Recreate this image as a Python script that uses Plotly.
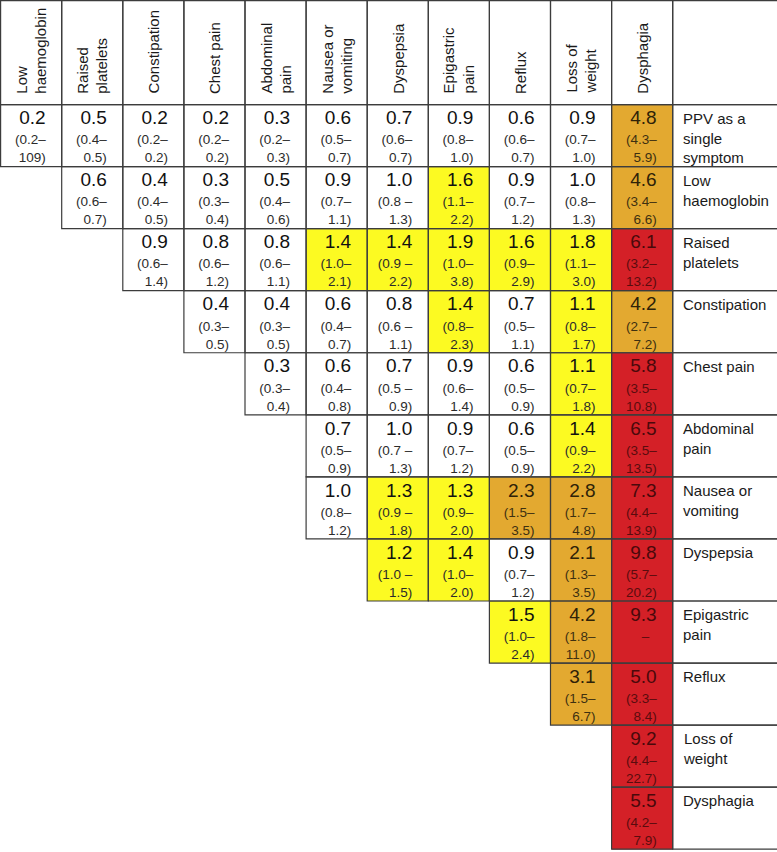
import plotly.graph_objects as go

# column headers (symptom combined with the row symptom)
col_labels = ["Low<br>haemoglobin", "Raised<br>platelets", "Constipation", "Chest pain",
              "Abdominal<br>pain", "Nausea or<br>vomiting", "Dyspepsia", "Epigastric<br>pain",
              "Reflux", "Loss of<br>weight", "Dysphagia"]
row_labels = ["PPV as a<br>single<br>symptom", "Low<br>haemoglobin", "Raised<br>platelets",
              "Constipation", "Chest pain", "Abdominal<br>pain", "Nausea or<br>vomiting",
              "Dyspepsia", "Epigastric<br>pain", "Reflux", "Loss of<br>weight", "Dysphagia"]

# first column index of each row in the triangle
row_start = [0, 1, 2, 3, 4, 5, 5, 6, 8, 9, 10, 10]

ppv = [
    [0.2, 0.5, 0.2, 0.2, 0.3, 0.6, 0.7, 0.9, 0.6, 0.9, 4.8],
    [0.6, 0.4, 0.3, 0.5, 0.9, 1.0, 1.6, 0.9, 1.0, 4.6],
    [0.9, 0.8, 0.8, 1.4, 1.4, 1.9, 1.6, 1.8, 6.1],
    [0.4, 0.4, 0.6, 0.8, 1.4, 0.7, 1.1, 4.2],
    [0.3, 0.6, 0.7, 0.9, 0.6, 1.1, 5.8],
    [0.7, 1.0, 0.9, 0.6, 1.4, 6.5],
    [1.0, 1.3, 1.3, 2.3, 2.8, 7.3],
    [1.2, 1.4, 0.9, 2.1, 9.8],
    [1.5, 4.2, 9.3],
    [3.1, 5.0],
    [9.2],
    [5.5],
]

ci = [
    ["0.2–109", "0.4–0.5", "0.2–0.2", "0.2–0.2", "0.2–0.3", "0.5–0.7", "0.6–0.7",
     "0.8–1.0", "0.6–0.7", "0.7–1.0", "4.3–5.9"],
    ["0.6–0.7", "0.4–0.5", "0.3–0.4", "0.4–0.6", "0.7–1.1", "0.8 – 1.3", "1.1–2.2",
     "0.7–1.2", "0.8–1.3", "3.4–6.6"],
    ["0.6–1.4", "0.6–1.2", "0.6–1.1", "1.0–2.1", "0.9 – 2.2", "1.0–3.8", "0.9–2.9",
     "1.1–3.0", "3.2–13.2"],
    ["0.3–0.5", "0.3–0.5", "0.4–0.7", "0.6 – 1.1", "0.8–2.3", "0.5–1.1", "0.8–1.7", "2.7–7.2"],
    ["0.3–0.4", "0.4–0.8", "0.5 – 0.9", "0.6–1.4", "0.5–0.9", "0.7–1.8", "3.5–10.8"],
    ["0.5–0.9", "0.7 – 1.3", "0.7–1.2", "0.5–0.9", "0.9–2.2", "3.5–13.5"],
    ["0.8–1.2", "0.9 – 1.8", "0.9–2.0", "1.5–3.5", "1.7–4.8", "4.4–13.9"],
    ["1.0 – 1.5", "1.0–2.0", "0.7–1.2", "1.3–3.5", "5.7–20.2"],
    ["1.0–2.4", "1.8–11.0", "–"],
    ["1.5–6.7", "3.3–8.4"],
    ["4.4–22.7"],
    ["4.2–7.9"],
]

W, H = 777, 852
CW, RH = 61.1, 62.1          # px per column / row
HH = 104 / RH                # header height in row units
LW = (W - 11 * CW) / CW      # label column width in column units
FONT = "Liberation Sans, Arial, sans-serif"
LINE = "#3c3c3c"

n_rows, n_cols = len(row_labels), len(col_labels)


def ink(v):
    # text tint per colour band (value, interval)
    if v >= 4.95:
        return "#4a090b", "#5a0c0e"
    if v >= 2.0:
        return "#2e2208", "#3e3010"
    return "#111111", "#2b2b2b"


# full matrix for the heatmap, blanks outside the triangle
z = [[None] * n_cols for _ in range(n_rows)]
vx, vy, vt, vc = [], [], [], []
c1y, c1t, c2y, c2t, cc = [], [], [], [], []
for r in range(n_rows):
    for k, v in enumerate(ppv[r]):
        c = row_start[r] + k
        z[r][c] = v
        vx.append(c + 1 - 16 / CW)
        vy.append(r + 15 / RH)
        vt.append(f"{v:.1f}")
        s = ci[r][k]
        if "–" in s and s != "–":
            lo, hi = s.split("–")
            c1t.append("(" + lo + "–")
            c2t.append(hi.strip() + ")")
        else:
            c1t.append(s + "  ")
            c2t.append("")
        c1y.append(r + 36.5 / RH)
        c2y.append(r + 54.5 / RH)
        a, b = ink(v)
        vc.append(a)
        cc.append(b)

fig = go.Figure()
fig.add_trace(go.Heatmap(
    z=z, x=list(range(n_cols + 1)), y=list(range(n_rows + 1)),
    zmin=0, zmax=10, showscale=False, hoverinfo="skip",
    colorscale=[[0, "#ffffff"], [0.105, "#ffffff"], [0.105, "#fcfa22"], [0.2, "#fcfa22"],
                [0.2, "#e3a930"], [0.49, "#e3a930"], [0.49, "#d42027"], [1, "#d42027"]],
))
fig.add_trace(go.Scatter(x=vx, y=vy, text=vt, mode="text", textposition="middle left",
                         hoverinfo="skip", textfont=dict(family=FONT, size=19, color=vc)))
fig.add_trace(go.Scatter(x=vx, y=c1y, text=c1t, mode="text", textposition="middle left",
                         hoverinfo="skip", textfont=dict(family=FONT, size=13.5, color=cc)))
fig.add_trace(go.Scatter(x=vx, y=c2y, text=c2t, mode="text", textposition="middle left",
                         hoverinfo="skip", textfont=dict(family=FONT, size=13.5, color=cc)))

# cell borders
shapes = []


def box(x0, x1, y0, y1):
    shapes.append(dict(type="rect", xref="x", yref="y", x0=x0, x1=x1, y0=y0, y1=y1,
                       line=dict(color=LINE, width=1.2), fillcolor="rgba(0,0,0,0)"))


for c in range(n_cols):
    box(c, c + 1, -HH, 0)
box(n_cols, n_cols + LW, -HH, 0)
for r in range(n_rows):
    box(n_cols, n_cols + LW, r, r + 1)
    for k in range(len(ppv[r])):
        c = row_start[r] + k
        box(c, c + 1, r, r + 1)

annotations = []
for c, lab in enumerate(col_labels):
    annotations.append(dict(x=c + 0.5, y=-9 / RH, xref="x", yref="y", text=lab,
                            textangle=-90, showarrow=False, align="left",
                            xanchor="center", yanchor="bottom",
                            font=dict(family=FONT, size=15, color="#1a1a1a")))
for r, lab in enumerate(row_labels):
    annotations.append(dict(x=n_cols + 8 / CW, y=r + 3 / RH, xref="x", yref="y", text=lab,
                            showarrow=False, align="left", xanchor="left", yanchor="top",
                            font=dict(family=FONT, size=15, color="#1a1a1a")))

off_x, off_y = 0.6 / CW, 0.6 / RH
fig.update_layout(
    width=W, height=H, autosize=False,
    margin=dict(l=0, r=0, t=0, b=0),
    paper_bgcolor="white", plot_bgcolor="white",
    showlegend=False,
    shapes=shapes, annotations=annotations,
    xaxis=dict(range=[-off_x, W / CW - off_x], visible=False, fixedrange=True),
    yaxis=dict(range=[(H - 104) / RH, -HH - off_y], visible=False, fixedrange=True),
)

fig.write_html("out.html", config={"displayModeBar": False},
               post_script="document.body.style.margin='0';")
